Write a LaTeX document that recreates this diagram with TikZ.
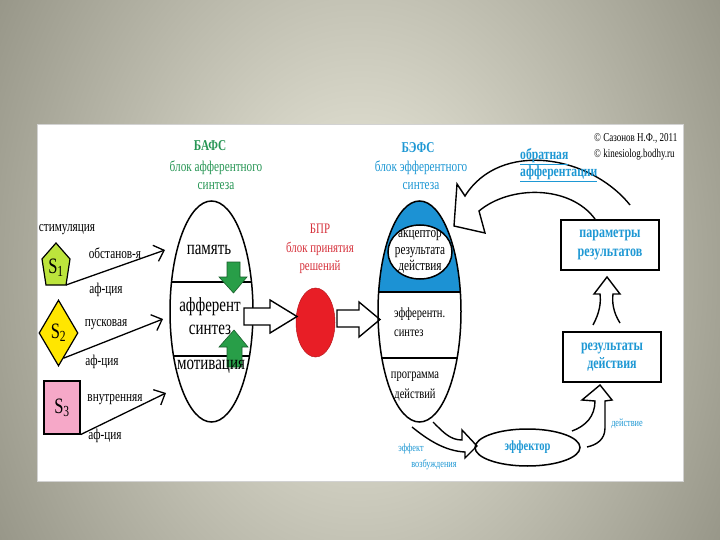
\documentclass[tikz,border=0pt]{standalone}
\usepackage{fontspec}
\setmainfont{Liberation Serif}[FakeStretch=0.75]
\usetikzlibrary{arrows.meta}
\usetikzlibrary{shapes.geometric}
\usetikzlibrary{calc}
\definecolor{bgin}{RGB}{240,239,225}
\definecolor{bgout}{RGB}{152,151,137}
\definecolor{afsgreen}{RGB}{40,150,85}
\definecolor{arrgreen}{RGB}{40,158,72}
\definecolor{efsblue}{RGB}{30,152,212}
\definecolor{capblue}{RGB}{28,146,212}
\definecolor{bprred}{RGB}{232,30,38}
\definecolor{bprtext}{RGB}{215,50,60}
\definecolor{sone}{RGB}{188,228,60}
\definecolor{stwo}{RGB}{255,230,0}
\definecolor{sthree}{RGB}{246,168,200}
\newcommand{\fsz}[2]{\fontsize{#1}{#2}\selectfont}
\tikzset{stim/.style={-{Straight Barb[length=9pt,width=17pt]},line width=1.3pt}}

\begin{document}
\begin{tikzpicture}[x=1pt,y=-1pt]
		\tikzstyle{bigell}=[ellipse,draw=black,line width=1.5pt,minimum width=83pt,minimum height=221pt,inner sep=0pt]
		\tikzstyle{resbox}=[rectangle,draw=black,line width=2pt,minimum width=98pt,minimum height=50pt,align=center,text=efsblue,font=\bfseries\fsz{16}{18.5}]
		\tikzstyle{hollow}=[draw=black,line width=1.4pt,line join=miter]
		\tikzstyle{grarrow}=[fill=arrgreen,draw=arrgreen!60!black,line width=0.6pt]
		\tikzstyle{lbl}=[font=\fsz{15}{18},align=center,inner sep=0pt]
		\tikzstyle{big}=[font=\fsz{20}{23},align=center,inner sep=0pt]
		\tikzstyle{small}=[font=\fsz{11}{13},text=efsblue,inner sep=0pt]
		\tikzstyle{slbl}=[font=\fsz{22}{22},inner sep=0pt]

		% background and panel
		\useasboundingbox (0,0) rectangle (720,540);
		\begin{scope}
			\clip (0,0) rectangle (720,540);
			\shade[inner color=bgin,outer color=bgout] (-56,-270) rectangle (776,810);
		\end{scope}
		\fill[white] (37,125) rectangle (683,481);
		\draw[gray!35,line width=1pt] (37,125) rectangle (683,481);

		% stimuli
		\filldraw[fill=sone,draw=black,line width=1.2pt] (56,243) -- (70,259) -- (66,285) -- (46,285) -- (42,259) -- cycle;
		\node[slbl] (S1) at (56,268) {S\textsubscript{1}};
		\coordinate (S1c) at (66,285);
		\node[diamond,draw=black,fill=stwo,line width=1.2pt,minimum width=39pt,minimum height=66pt,inner sep=0pt,font=\fsz{22}{22}] (S2) at (58.5,333) {S\textsubscript{2}};
		\coordinate (S2c) at ($(S2.south)!0.25!(S2.east)$);
		\node[rectangle,draw=black,fill=sthree,line width=1.2pt,minimum width=36pt,minimum height=53pt,inner sep=0pt,font=\fsz{22}{22}] (S3) at (62,407.5) {S\textsubscript{3}};
		\coordinate (S3c) at (S3.south east);

		\node[lbl] (stim) at (67,230) {стимуляция};
		\node[lbl] (obst) at (115,253) {обстанов-я};
		\node[lbl] (af1) at (106,290) {аф-ция};
		\node[lbl] (pusk) at (106,325) {пусковая};
		\node[lbl] (af2) at (102,362) {аф-ция};
		\node[lbl] (vnut) at (115,400) {внутренняя};
		\node[lbl] (af3) at (105,436) {аф-ция};

		\coordinate (t1) at (165,250);
		\coordinate (t2) at (163,319);
		\coordinate (t3) at (166,393);
		\foreach \s/\t in {S1c/t1,S2c/t2,S3c/t3}
			\draw [stim] (\s) -- (\t);

		% BAFS
		\coordinate (afc) at (211.5,311.5);
		\begin{scope}
			\clip (afc) ellipse [x radius=41.5,y radius=110.5];
			\draw[line width=1.5pt] (160,282) -- (265,282) (160,356) -- (265,356);
		\end{scope}
		\node[bigell] (Bafs) at (afc) {};
		\draw[grarrow] (227,262) -- (240,262) -- (240,277) -- (247,277) -- (233.5,293) -- (219,277) -- (227,277) -- cycle;
		\draw[grarrow] (227,367) -- (242,367) -- (242,347) -- (248,347) -- (234,330) -- (219,347) -- (227,347) -- cycle;
		\node[big] (mem) at (209,250) {память};
		\node[big] (syn) at (210,316.5) {афферент\\синтез};
		\node[big] (mot) at (211,367) {мотивация};
		\node[font=\bfseries\fsz{15}{18},text=afsgreen,inner sep=0pt] (BafsT) at (210,146) {БАФС};
		\node[lbl,text=afsgreen] (BafsS) at (216,175) {блок афферентного\\синтеза};

		% BPR
		\node[ellipse,fill=bprred,draw=bprred!80!black,line width=0.5pt,minimum width=39pt,minimum height=69pt,inner sep=0pt] (Bpr) at (315.5,322.5) {};
		\node[font=\fsz{14.5}{18.5},align=center,text=bprtext,inner sep=0pt] (BprT) at (320,249) {БПР\\блок принятия\\решений};
		\draw[hollow,fill=white] (244,308) -- (270,308) -- (270,300) -- (297,316.5) -- (270,333) -- (270,325) -- (244,325) -- cycle;
		\draw[hollow,fill=white] (337,310) -- (359,310) -- (359,302) -- (380,319.5) -- (359,337) -- (359,327) -- (337,327) -- cycle;

		% BEFS
		\coordinate (efc) at (419.5,311.5);
		\begin{scope}
			\clip (efc) ellipse [x radius=41.5,y radius=110.5];
			\fill[capblue] (370,190) rectangle (470,292);
			\draw[line width=1.5pt] (370,292) -- (470,292) (370,358) -- (470,358);
		\end{scope}
		\node[bigell] (Befs) at (efc) {};
		\node[ellipse,draw=black,fill=white,line width=1.5pt,minimum width=64pt,minimum height=54pt,inner sep=0pt] (acc) at (420,252) {};
		\node[font=\fsz{15}{16.5},align=center,inner sep=0pt] (accT) at (acc) {акцептор\\результата\\действия};
		\node[font=\fsz{14}{19},align=left,anchor=west,inner sep=0pt] (esyn) at (394,322.5) {эфферентн.\\синтез};
		\node[font=\fsz{14}{20},align=center,inner sep=0pt] (prog) at (415,387) {программа\\действий};
		\node[font=\bfseries\fsz{15}{18},text=efsblue,inner sep=0pt] (BefsT) at (418,148) {БЭФС};
		\node[lbl,text=efsblue] (BefsS) at (421,175.5) {блок эфферентного\\синтеза};

		% effector and results
		\node[ellipse,draw=black,line width=1.5pt,minimum width=105pt,minimum height=37pt,inner sep=0pt,font=\bfseries\fsz{14}{16},text=efsblue] (eff) at (527.5,447.5) {эффектор};
		\node[resbox] (results) at (612,357) {результаты\\действия};
		\node[resbox] (params) at (610,245) {параметры\\результатов};

		\draw[hollow] (433,422) .. controls (443,432) and (450,440) .. (462,440) -- (462,430) -- (477,446) -- (465,458) -- (465,452) .. controls (445,451) and (428,440) .. (412,427);
		\draw[hollow] (572,431) .. controls (586,426) and (595,416) .. (595,401) -- (582,400) -- (600,385) -- (612,400) -- (605,401) -- (605,428) .. controls (605,440) and (596,445) .. (587,447);
		\draw[hollow] (593,325) .. controls (600,312) and (601,302) .. (600,294) -- (594,294) -- (607,277) -- (620,294) -- (613,294) .. controls (612,302) and (613,312) .. (620,323);
		\draw[hollow] (630,205) .. controls (590,155) and (500,140) .. (465,196) -- (457,184) -- (454,226) -- (485,233) -- (479,211) .. controls (510,185) and (570,185) .. (595,219);

		\node[small] (eff1) at (411,449) {эффект};
		\node[small] (eff2) at (434,465) {возбуждения};
		\node[small] (act) at (627,424) {действие};
		\node[font=\bfseries\fsz{15.5}{17},text=efsblue,align=left,anchor=west,inner sep=0pt] (fb) at (520,165.5) {\underline{обратная}\\\underline{афферентации}};
		\node[font=\fsz{12}{16},align=left,anchor=west,inner sep=0pt] (copy) at (594,147) {© Сазонов Н.Ф., 2011\\© kinesiolog.bodhy.ru};
\end{tikzpicture}
\end{document}
